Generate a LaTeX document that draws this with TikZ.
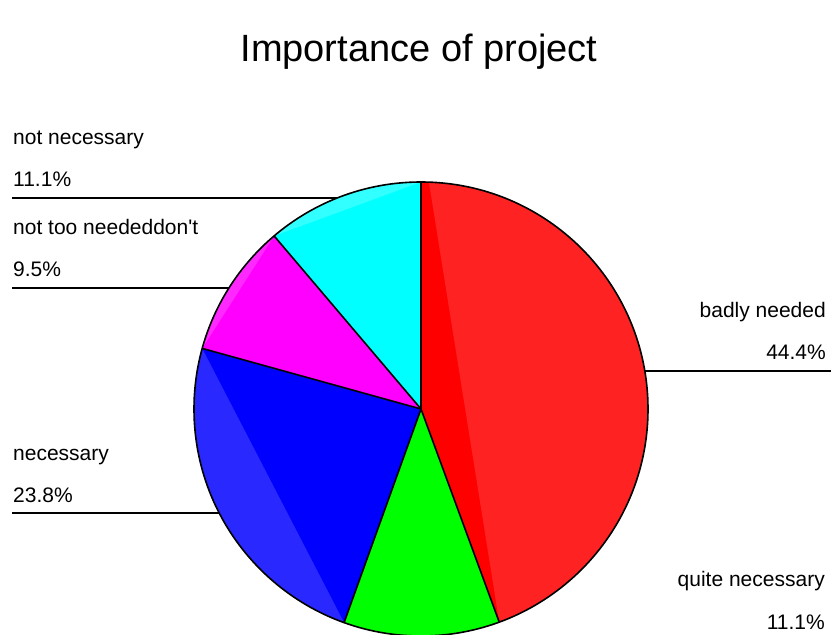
\documentclass[tikz,border=0pt]{standalone}
\usepackage{fontspec}
\setmainfont{Liberation Sans}
\definecolor{pred}{RGB}{255,0,0}
\definecolor{pgreen}{RGB}{0,255,0}
\definecolor{pblue}{RGB}{0,0,255}
\definecolor{pmagenta}{RGB}{255,0,255}
\definecolor{pcyan}{RGB}{0,255,255}
\definecolor{predl}{RGB}{255,34,34}
\definecolor{pbluel}{RGB}{40,40,255}
\definecolor{pmagental}{RGB}{255,40,255}
\definecolor{pcyanl}{RGB}{50,255,255}
\begin{document}
\begin{tikzpicture}[x=1pt,y=1pt,
  sliceedge/.style={draw=black,line width=1.6pt,line join=round},
  lbl/.style={font=\fontsize{21}{25}\selectfont,inner sep=0pt,text=black},
  ttl/.style={font=\fontsize{38}{44}\selectfont,inner sep=0pt,text=black},
  leader/.style={draw=black,line width=1.2pt}]
\useasboundingbox (0,0) rectangle (831,635);
\def\R{227}
\coordinate (c) at (421,226);
% slices
\fill[pred]     (c) -- ([shift={(90:\R)}]c)      arc[start angle=90,end angle=-69.84,radius=\R] -- cycle;
\fill[pgreen]   (c) -- ([shift={(-69.84:\R)}]c)  arc[start angle=-69.84,end angle=-109.8,radius=\R] -- cycle;
\fill[pblue]    (c) -- ([shift={(-109.8:\R)}]c)  arc[start angle=-109.8,end angle=-195.48,radius=\R] -- cycle;
\fill[pmagenta] (c) -- ([shift={(-195.48:\R)}]c) arc[start angle=-195.48,end angle=-229.68,radius=\R] -- cycle;
\fill[pcyan]    (c) -- ([shift={(-229.68:\R)}]c) arc[start angle=-229.68,end angle=-270,radius=\R] -- cycle;
% lighter texture segments
\fill[predl]     ([shift={(88:\R)}]c) arc[start angle=88,end angle=-69.84,radius=\R] -- cycle;
\fill[pbluel]    ([shift={(-109.8:\R)}]c) arc[start angle=-109.8,end angle=-195.48,radius=\R] -- cycle;
\fill[pmagental] ([shift={(-195.48:\R)}]c) arc[start angle=-195.48,end angle=-229.68,radius=\R] -- cycle;
\fill[pcyanl]    ([shift={(-229.68:\R)}]c) arc[start angle=-229.68,end angle=-270,radius=\R] -- cycle;
% edges
\draw[sliceedge] (c) -- ([shift={(90:\R)}]c);
\draw[sliceedge] (c) -- ([shift={(-69.84:\R)}]c);
\draw[sliceedge] (c) -- ([shift={(-109.8:\R)}]c);
\draw[sliceedge] (c) -- ([shift={(-195.48:\R)}]c);
\draw[sliceedge] (c) -- ([shift={(-229.68:\R)}]c);
\draw[sliceedge] (c) circle[radius=\R];
% title
\node[ttl,anchor=base] (title) at (419,573) {Importance of project};
% left labels
\node[lbl,anchor=base west] (n1) at (13,490) {not necessary};
\node[lbl,anchor=base west] (p1) at (13,448) {11.1\%};
\coordinate (s1) at (12,437);
\coordinate (e1) at (337.3,437);
\draw[leader] (s1) -- (e1);
\node[lbl,anchor=base west] (n2) at (13,400) {not too neededdon\textquotesingle t};
\node[lbl,anchor=base west] (p2) at (13,358) {9.5\%};
\coordinate (s2) at (12,347);
\coordinate (e2) at (228.9,347);
\draw[leader] (s2) -- (e2);
\node[lbl,anchor=base west] (n3) at (13,174) {necessary};
\node[lbl,anchor=base west] (p3) at (13,132) {23.8\%};
\coordinate (s3) at (12,122);
\coordinate (e3) at (219.2,122);
\draw[leader] (s3) -- (e3);
% right labels
\node[lbl,anchor=base east] (n4) at (826,317) {badly needed};
\node[lbl,anchor=base east] (p4) at (826,275) {44.4\%};
\coordinate (s4) at (644.8,264);
\coordinate (e4) at (831,264);
\draw[leader] (s4) -- (e4);
\node[lbl,anchor=base east] (n5) at (825,48) {quite necessary};
\node[lbl,anchor=base east] (p5) at (825,5) {11.1\%};
\end{tikzpicture}
\end{document}
